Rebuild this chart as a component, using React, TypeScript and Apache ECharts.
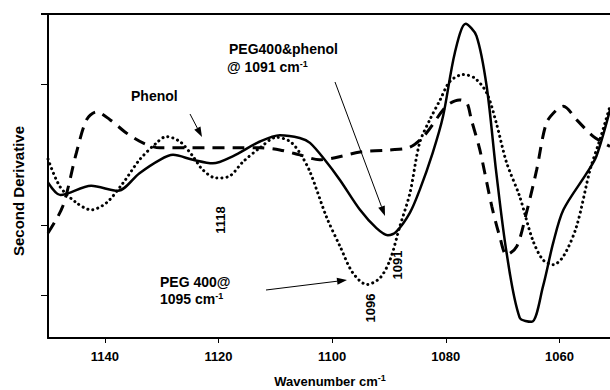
import React, { useEffect, useRef } from "react";
import * as echarts from "echarts";

// Wavenumber (cm-1) and second-derivative values (arbitrary units)
const solidX = [1150, 1147.8, 1142.4, 1137.7, 1133.9, 1130.3, 1128.0, 1124.5, 1121.0, 1117.5, 1112.7, 1109.2, 1105.7, 1103.9, 1101.3, 1098.6, 1095.1, 1092.2, 1090.2, 1088.7, 1086.3, 1084.6, 1082.3, 1080.5, 1078.4, 1076.5, 1074.6, 1072.8, 1071.1, 1069.3, 1067.0, 1064.9, 1062.9, 1061.1, 1059.3, 1055.2, 1053.5, 1051.1];
const solidY = [-0.39, -0.57, -0.44, -0.51, -0.26, -0.07, 0.0, -0.07, -0.12, -0.02, 0.19, 0.28, 0.24, 0.17, -0.07, -0.36, -0.78, -1.04, -1.14, -1.09, -0.82, -0.5, 0.03, 0.54, 1.45, 1.86, 1.69, 0.97, -0.26, -1.39, -2.31, -2.37, -1.87, -1.25, -0.78, -0.26, -0.02, 0.64];

const dottedX = [1150, 1147.9, 1145.0, 1142.4, 1139.7, 1136.8, 1133.9, 1130.9, 1129.2, 1126.8, 1124.5, 1122.8, 1120.4, 1118.0, 1115.7, 1112.7, 1109.8, 1107.4, 1105.7, 1103.9, 1101.0, 1098.6, 1096.4, 1093.9, 1091.6, 1089.8, 1088.1, 1086.3, 1084.6, 1082.8, 1081.0, 1079.3, 1077.0, 1074.9, 1072.8, 1071.1, 1069.3, 1067.0, 1064.7, 1062.9, 1061.1, 1059.3, 1057.0, 1054.6, 1052.9, 1051.1];
const dottedY = [-0.06, -0.45, -0.68, -0.78, -0.68, -0.4, -0.07, 0.17, 0.26, 0.19, -0.02, -0.21, -0.33, -0.3, -0.1, 0.1, 0.25, 0.19, 0.03, -0.24, -0.88, -1.3, -1.67, -1.84, -1.75, -1.49, -1.02, -0.54, 0.17, 0.5, 0.78, 1.04, 1.14, 1.09, 0.88, 0.45, -0.11, -0.59, -1.21, -1.49, -1.56, -1.44, -1.02, -0.21, 0.21, 0.69];

const dashedX = [1150, 1147.4, 1145.0, 1143.2, 1141.5, 1139.1, 1136.2, 1133.3, 1130.3, 1124.5, 1116.8, 1112.7, 1109.2, 1105.7, 1102.2, 1099.5, 1095.1, 1089.8, 1086.3, 1083.7, 1079.9, 1077.6, 1076.3, 1075.5, 1074.0, 1071.9, 1070.5, 1069.3, 1067.5, 1065.8, 1064.0, 1062.3, 1060.5, 1059.3, 1057.0, 1054.0, 1051.1];
const dashedY = [-1.11, -0.73, 0.03, 0.5, 0.61, 0.5, 0.31, 0.17, 0.1, 0.1, 0.1, 0.1, 0.07, 0.0, -0.07, -0.04, 0.04, 0.07, 0.11, 0.28, 0.69, 0.78, 0.74, 0.5, 0.07, -0.73, -1.16, -1.42, -1.3, -0.82, -0.21, 0.45, 0.64, 0.69, 0.5, 0.26, 0.12];

const xTicks = [1140, 1120, 1100, 1080, 1060];
const yTicks = [-2, -1, 1, 2];

const FONT = "Liberation Sans, Arial, sans-serif";

function pairs(xs: number[], ys: number[]) {
  return xs.map((x, i) => [x, ys[i]]);
}

function arrow(x1: number, y1: number, x2: number, y2: number) {
  const ang = Math.atan2(y2 - y1, x2 - x1);
  const L = 10, W = 3.5;
  const bx = x2 - L * Math.cos(ang), by = y2 - L * Math.sin(ang);
  const px = -Math.sin(ang) * W, py = Math.cos(ang) * W;
  return [
    { type: "line", shape: { x1, y1, x2: bx, y2: by }, style: { stroke: "#000", lineWidth: 1 } },
    { type: "polygon", shape: { points: [[x2, y2], [bx + px, by + py], [bx - px, by - py]] }, style: { fill: "#000" } },
  ];
}

const bold = (size: number) => ({ fontFamily: FONT, fontWeight: "bold", fontSize: size, fill: "#000" });

export default function App() {
  const ref = useRef<HTMLDivElement>(null);
  useEffect(() => {
    if (!ref.current) return;
    const chart = echarts.init(ref.current, null, { renderer: "svg" });
    const sup = { fontFamily: FONT, fontWeight: "bold", fontSize: 9, verticalAlign: "top", padding: [0, 0, 6, 0] };
    chart.setOption({
      animation: false,
      backgroundColor: "#fff",
      grid: { left: 48, right: 0, top: 14, bottom: 52, show: false },
      xAxis: {
        type: "value",
        inverse: true,
        min: 1051.1,
        max: 1150,
        axisLine: { onZero: false, lineStyle: { color: "#000", width: 2 } },
        axisTick: { customValues: xTicks, length: 5, lineStyle: { color: "#000", width: 1 } },
        axisLabel: {
          customValues: xTicks, color: "#000", fontFamily: FONT, fontWeight: "bold", fontSize: 13, margin: 12,
          formatter: (v: number) => String(Math.round(v)),
        },
        splitLine: { show: false },
      },
      yAxis: [
        {
          type: "value",
          min: -2.6,
          max: 2,
          axisLine: { show: true, onZero: false, lineStyle: { color: "#000", width: 2 } },
          axisTick: { show: true, customValues: yTicks, length: 7, lineStyle: { color: "#000", width: 1 } },
          axisLabel: { show: false },
          splitLine: { show: false },
        },
      ],
      series: [
        {
          type: "line", data: pairs(solidX, solidY), showSymbol: false, smooth: 0.3,
          lineStyle: { color: "#000", width: 2.5, type: "solid" },
        },
        {
          type: "line", data: pairs(dottedX, dottedY), showSymbol: false, smooth: 0.3,
          lineStyle: { color: "#000", width: 3, type: [0.1, 5], cap: "round" },
        },
        {
          type: "line", data: pairs(dashedX, dashedY), showSymbol: false, smooth: 0.3,
          lineStyle: { color: "#000", width: 3, type: [12, 8], cap: "butt" },
        },
      ],
      graphic: [
        { type: "line", shape: { x1: 41, y1: 14, x2: 610, y2: 14 }, style: { stroke: "#000", lineWidth: 2 } },
        { type: "text", x: 229, y: 49, style: { ...bold(14), text: "PEG400&phenol", textVerticalAlign: "middle" } },
        {
          type: "text", x: 227, y: 67,
          style: { ...bold(14), textVerticalAlign: "middle", text: "{a|@ 1091 cm}{s|-1}", rich: { a: { fontFamily: FONT, fontWeight: "bold", fontSize: 14 }, s: sup } },
        },
        { type: "text", x: 131, y: 96, style: { ...bold(14), text: "Phenol", textVerticalAlign: "middle" } },
        { type: "text", x: 160, y: 282, style: { ...bold(14), text: "PEG 400@", textVerticalAlign: "middle" } },
        {
          type: "text", x: 160, y: 299,
          style: { ...bold(14), textVerticalAlign: "middle", text: "{a|1095 cm}{s|-1}", rich: { a: { fontFamily: FONT, fontWeight: "bold", fontSize: 14 }, s: sup } },
        },
        { type: "text", x: 220, y: 220, rotation: Math.PI / 2, style: { ...bold(13), text: "1118", textAlign: "center", textVerticalAlign: "middle" } },
        { type: "text", x: 370, y: 308, rotation: Math.PI / 2, style: { ...bold(13), text: "1096", textAlign: "center", textVerticalAlign: "middle" } },
        { type: "text", x: 397, y: 265, rotation: Math.PI / 2, style: { ...bold(13), text: "1091", textAlign: "center", textVerticalAlign: "middle" } },
        { type: "text", x: 18, y: 191, rotation: Math.PI / 2, style: { ...bold(15), text: "Second Derivative", textAlign: "center", textVerticalAlign: "middle" } },
        {
          type: "text", x: 330, y: 381,
          style: { ...bold(13), textAlign: "center", textVerticalAlign: "middle", text: "{a|Wavenumber cm}{s|-1}", rich: { a: { fontFamily: FONT, fontWeight: "bold", fontSize: 13 }, s: sup } },
        },
        ...arrow(190, 114, 202, 137),
        ...arrow(335, 82, 385, 216),
        ...arrow(266, 290, 347, 280),
      ],
    });
    return () => chart.dispose();
  }, []);
  return <div ref={ref} style={{ position: "absolute", left: 0, top: 0, width: 610, height: 390 }} />;
}
